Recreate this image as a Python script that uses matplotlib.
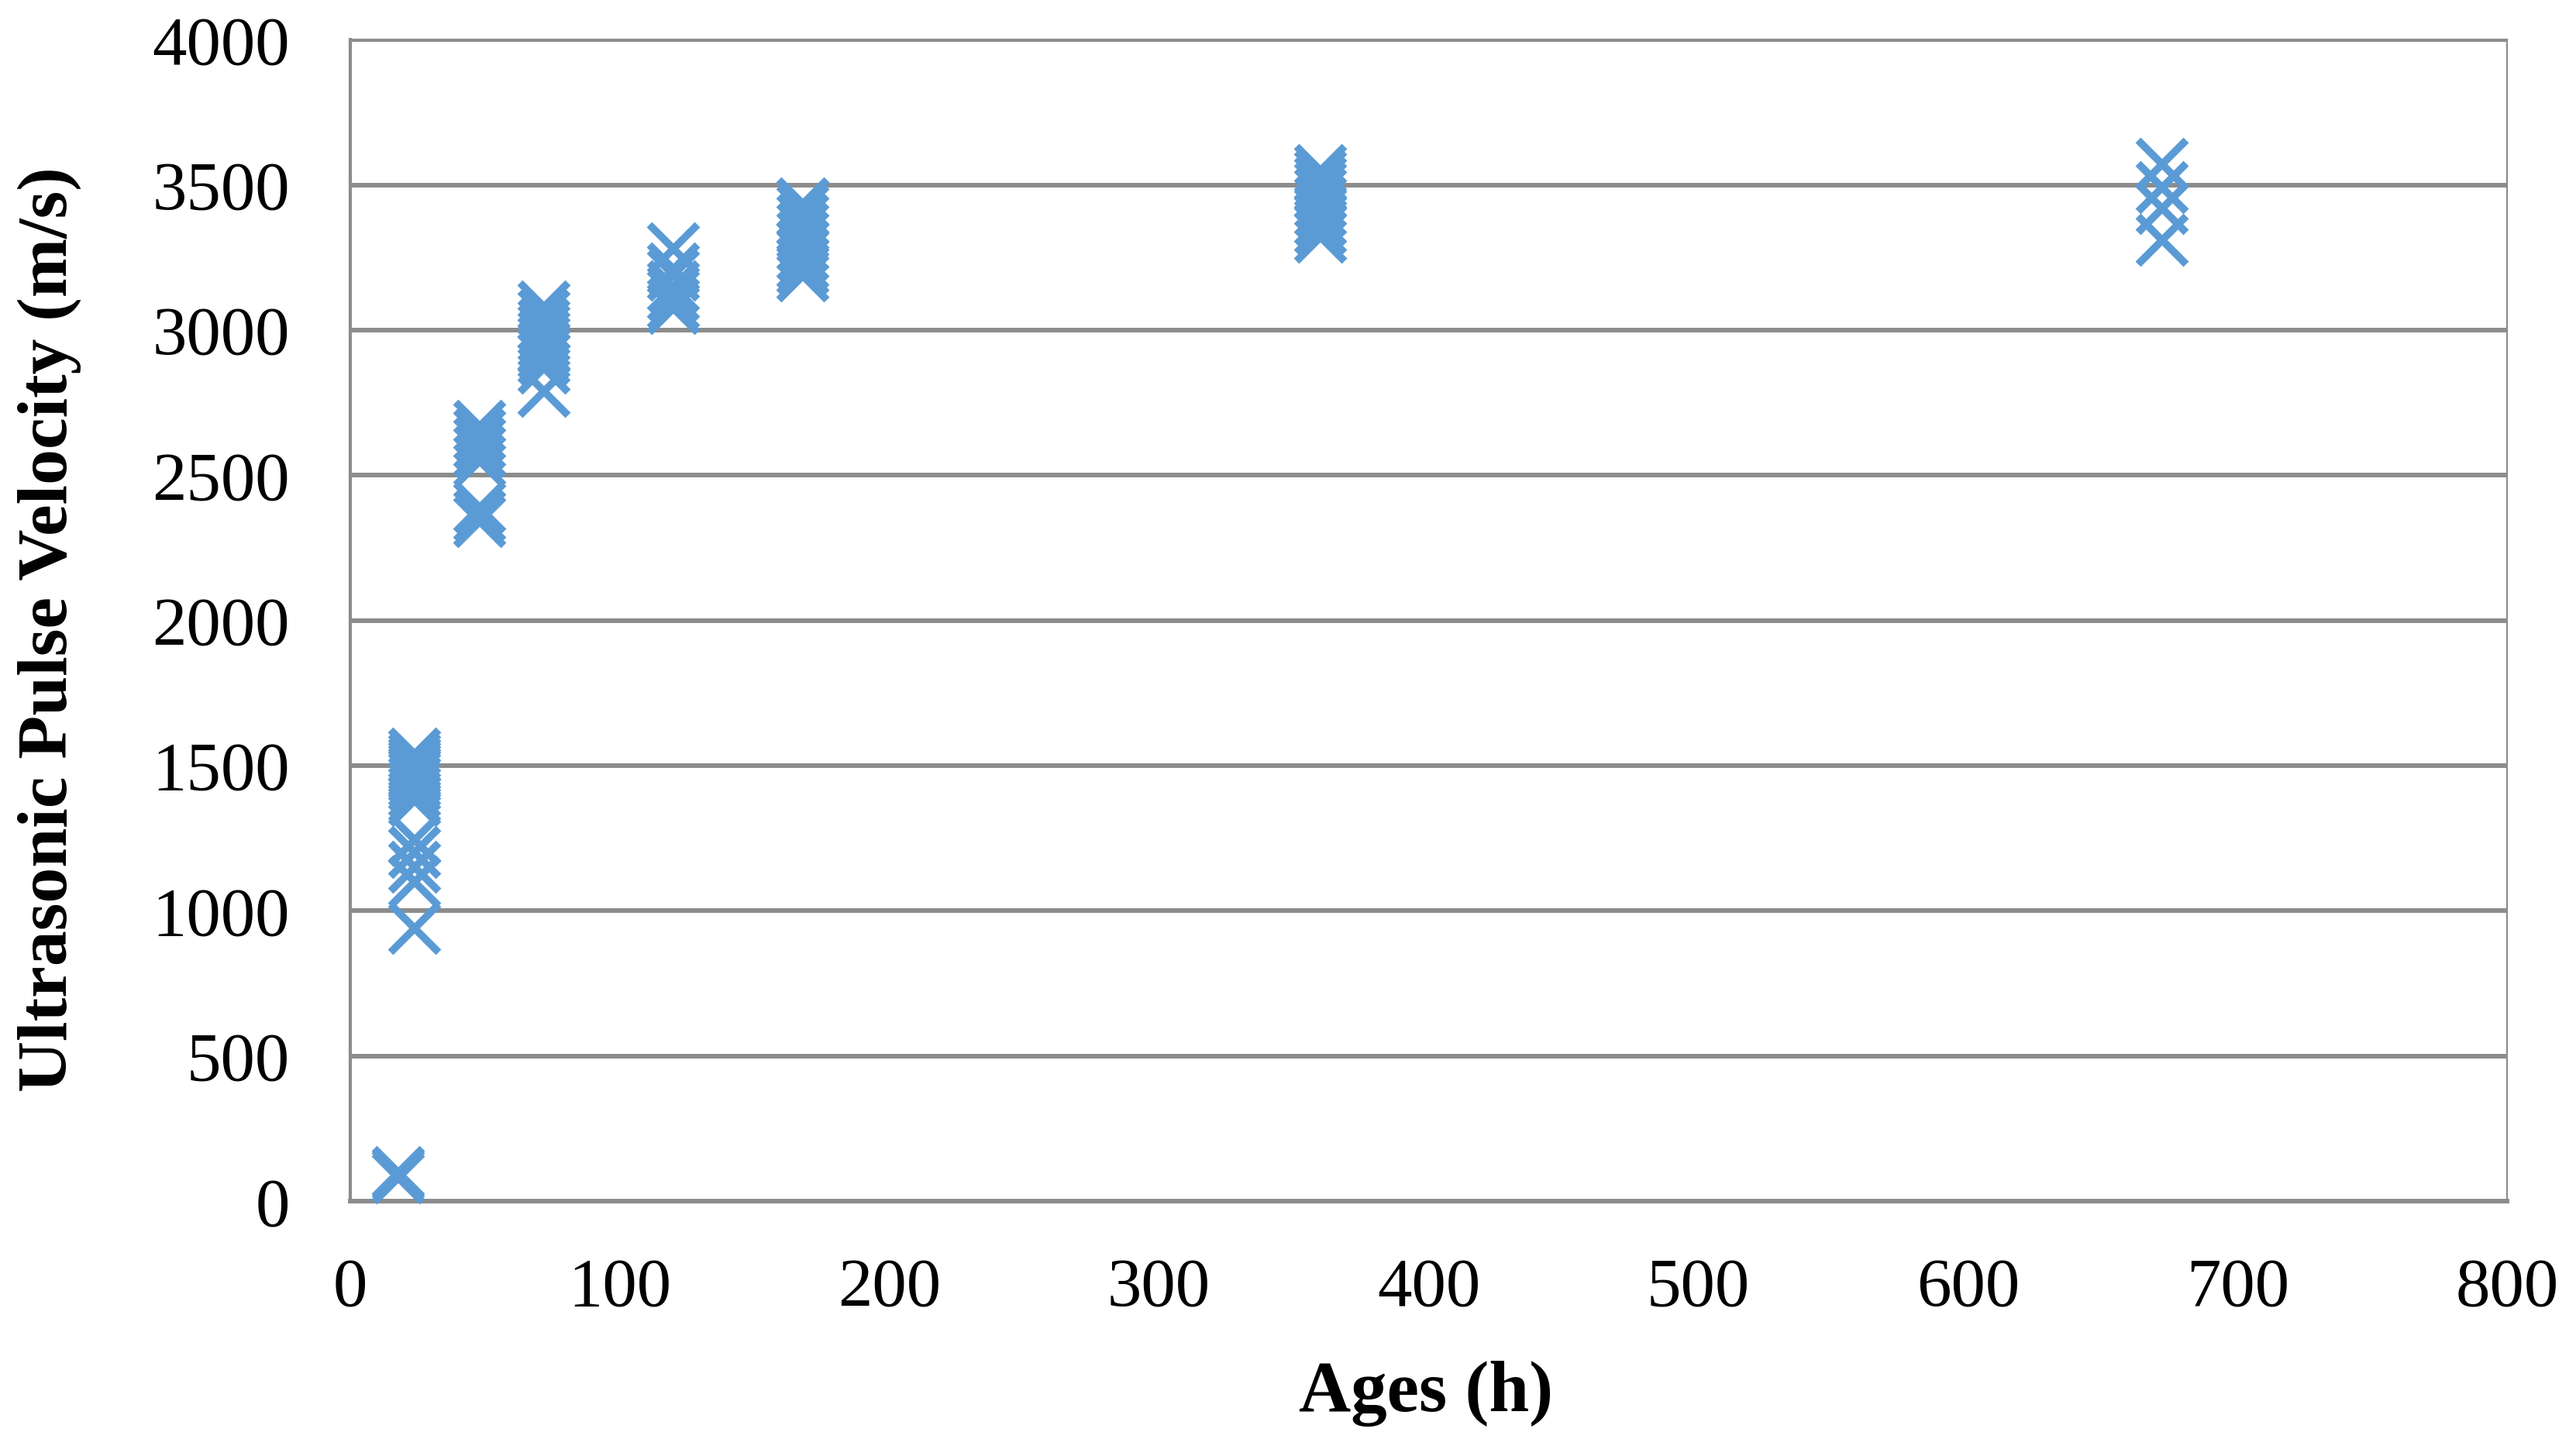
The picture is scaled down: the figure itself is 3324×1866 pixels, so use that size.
import matplotlib
matplotlib.use("Agg")
import matplotlib.pyplot as plt

# Ultrasonic pulse velocity readings (m/s) at each age (h)
ages = [18, 24, 48, 72, 120, 168, 360, 672]
v_18h = [80, 90, 100]
v_24h = [1540, 1525, 1510, 1500, 1490, 1480, 1470, 1460, 1445, 1430,
         1410, 1380, 1245, 1200, 1150, 1100, 940]
v_48h = [2670, 2640, 2610, 2580, 2550, 2390, 2360, 2340]
v_72h = [3080, 3050, 3020, 3000, 2980, 2960, 2940, 2920, 2900, 2870, 2790]
v_120h = [3280, 3210, 3190, 3150, 3120, 3090, 3075]
v_168h = [3435, 3410, 3380, 3350, 3320, 3290, 3260, 3230, 3210, 3187]
v_360h = [3550, 3530, 3510, 3490, 3470, 3440, 3410, 3380, 3350, 3320]
v_672h = [3570, 3490, 3420, 3310]
velocities = [v_18h, v_24h, v_48h, v_72h, v_120h, v_168h, v_360h, v_672h]

x_ticks = [0, 100, 200, 300, 400, 500, 600, 700, 800]
y_ticks = [0, 500, 1000, 1500, 2000, 2500, 3000, 3500, 4000]

plt.rcParams['font.family'] = ['Liberation Serif', 'DejaVu Serif']

fig = plt.figure(figsize=(33.24, 18.66), dpi=100)
ax = fig.add_axes([0.1359, 0.1693, 0.8374, 0.8032])

grid_col = '#8c8c8c'
blue = '#5b9bd5'

# flatten groups into x/y
xs, ys = [], []
for age, vals in zip(ages, velocities):
    for v in vals:
        xs.append(age)
        ys.append(v)

ax.plot(xs, ys, linestyle='none', marker='x', markersize=45,
        markeredgewidth=7, color=blue, zorder=3, clip_on=False)

ax.set_xlim(0, 800)
ax.set_ylim(0, 4000)
ax.set_xticks(x_ticks)
ax.set_yticks(y_ticks)
ax.set_xticklabels([str(t) for t in x_ticks])
ax.set_yticklabels([str(t) for t in y_ticks])

ax.yaxis.grid(True, color=grid_col, linewidth=4.3, zorder=0)
ax.set_axisbelow(True)

ax.spines['left'].set_color(grid_col)
ax.spines['left'].set_linewidth(3)
ax.spines['bottom'].set_color(grid_col)
ax.spines['bottom'].set_linewidth(4.3)
ax.spines['top'].set_color(grid_col)
ax.spines['top'].set_linewidth(1.6)
ax.spines['right'].set_color(grid_col)
ax.spines['right'].set_linewidth(1.6)

ax.tick_params(axis='both', length=0, labelsize=64, colors='black')
ax.tick_params(axis='y', pad=56)
ax.tick_params(axis='x', pad=52)

fig.text(0.5535, 0.036, 'Ages (h)', ha='center', va='center',
         fontsize=67, fontweight='bold')
fig.text(0.019, 0.565, 'Ultrasonic Pulse Velocity (m/s)', ha='center',
         va='center', rotation=90, fontsize=66, fontweight='bold')

fig.savefig('out.png', dpi=100)
